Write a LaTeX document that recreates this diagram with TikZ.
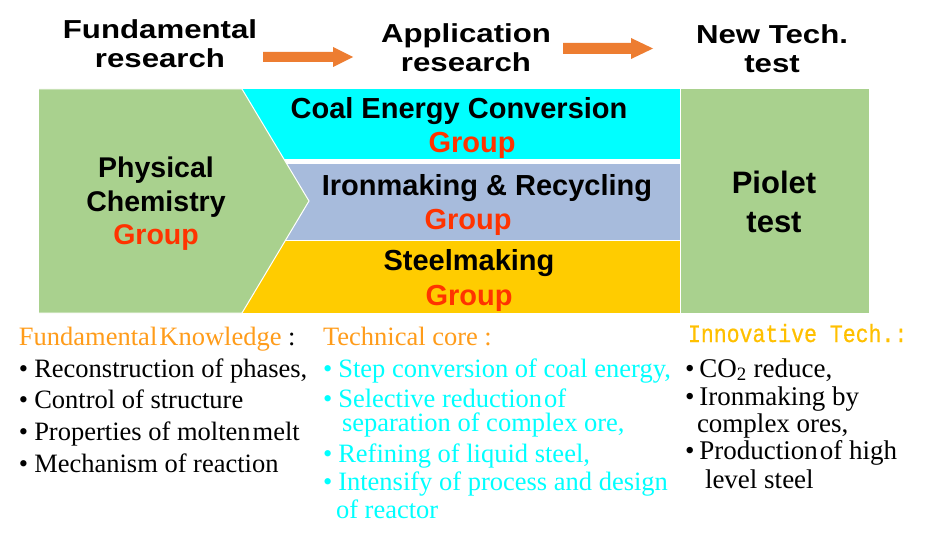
\documentclass[tikz,border=0pt]{standalone}
\usepackage{fontspec}
\setmainfont{Liberation Serif}
\newfontfamily\arialfont{Liberation Sans}
\newfontfamily\headfont[FakeStretch=1.2]{Liberation Sans}
\newfontfamily\monofnt[FakeStretch=0.86,FakeBold=0.6]{Liberation Mono}
\definecolor{boxgreen}{HTML}{A9D18E}
\definecolor{bandcyan}{HTML}{00FFFF}
\definecolor{bandblue}{HTML}{A7BBDC}
\definecolor{bandgold}{HTML}{FFCC00}
\definecolor{grpred}{HTML}{FF3300}
\definecolor{arrorange}{HTML}{ED7D31}
\definecolor{knorange}{HTML}{FF9C1A}
\definecolor{techgold}{HTML}{FFC000}
\begin{document}
\begin{tikzpicture}[x=1pt,y=-1pt,
  every node/.style={inner sep=0pt, outer sep=0pt},
  head/.style={anchor=base, font=\headfont\bfseries\fontsize{26}{29}\selectfont},
  bandtxt/.style={anchor=base, font=\arialfont\bfseries\fontsize{29}{32}\selectfont},
  grp/.style={bandtxt, text=grpred},
  bodytxt/.style={anchor=base west, font=\fontsize{26.5}{30}\selectfont},
  body2/.style={anchor=base west, font=\fontsize{26.5}{30}\selectfont, text=bandcyan},
  body3/.style={anchor=base west, font=\fontsize{27}{30}\selectfont},
  blockarrow/.style={fill=arrorange}
]
\useasboundingbox (0,0) rectangle (930,543);
\fill[white] (0,0) rectangle (930,543);

% headings
\node[head] (h1a) at (160,39) {Fundamental};
\node[head] (h1b) at (160,68) {research};
\node[head] (h2a) at (466,42.5) {Application};
\node[head] (h2b) at (466,71.5) {research};
\node[head] (h3a) at (772,44) {New Tech.};
\node[head] (h3b) at (772,73) {test};

% block arrows
\fill[blockarrow] (263,52) -- (333,52) -- (333,47) -- (353,57) -- (333,67) -- (333,62) -- (263,62) -- cycle;
\fill[blockarrow] (563,43) -- (631,43) -- (631,38) -- (653,48.5) -- (631,59) -- (631,54) -- (563,54) -- cycle;

% bands
\fill[bandcyan] (242,89) rectangle (680,159);
\fill[bandblue] (242,164) rectangle (680,240);
\fill[bandgold] (242,241) rectangle (680,313);
\fill[boxgreen] (681,89.5) rectangle (869,313);

% chevron
\filldraw[fill=boxgreen, draw=white, line width=1pt, line join=miter]
  (38,89) -- (242,89) -- (309,201) -- (242,313) -- (38,313) -- cycle;
\fill[white] (37,88) rectangle (38.5,314);

% chevron texts
\node[bandtxt, font=\arialfont\bfseries\fontsize{28.5}{32}\selectfont] (pc1) at (156,177) {Physical};
\node[bandtxt, font=\arialfont\bfseries\fontsize{28.5}{32}\selectfont] (pc2) at (156,211) {Chemistry};
\node[grp, font=\arialfont\bfseries\fontsize{28.5}{32}\selectfont] (pc3) at (156,244) {Group};

% band texts
\node[bandtxt] (c1) at (459,118) {Coal Energy Conversion};
\node[grp] (c2) at (472,152) {Group};
\node[bandtxt] (i1) at (487,195) {Ironmaking \& Recycling};
\node[grp] (i2) at (468,229) {Group};
\node[bandtxt] (s1) at (469,270) {Steelmaking};
\node[grp] (s2) at (469,305) {Group};

% pilot
\node[bandtxt, font=\arialfont\bfseries\fontsize{31}{34}\selectfont] (p1) at (774,193) {Piolet};
\node[bandtxt, font=\arialfont\bfseries\fontsize{31}{34}\selectfont] (p2) at (774,232) {test};

% left column
\node[bodytxt, text=knorange] (k0) at (19,345) {Fundamental\hspace{2pt}Knowledge \textcolor{black}{:}};
\node[bodytxt] (k1) at (19,377) {\textbullet\hspace{6pt}Reconstruction of phases,};
\node[bodytxt] (k2) at (19,408) {\textbullet\hspace{6pt}Control of structure};
\node[bodytxt] (k3) at (19,440) {\textbullet\hspace{6pt}Properties of molten\hspace{2pt}melt};
\node[bodytxt] (k4) at (19,472) {\textbullet\hspace{6pt}Mechanism of reaction};

% middle column
\node[bodytxt, text=knorange] (t0) at (323,345) {Technical core :};
\node[body2] (t1) at (323,377) {\textbullet\hspace{6pt}Step conversion of coal energy,};
\node[body2] (t2) at (323,407) {\textbullet\hspace{6pt}Selective reduction\hspace{2pt}of};
\node[body2] (t3) at (342,431) {separation of complex ore,};
\node[body2] (t4) at (323,462) {\textbullet\hspace{6pt}Refining of liquid steel,};
\node[body2] (t5) at (323,490) {\textbullet\hspace{6pt}Intensify of process and design};
\node[body2] (t6) at (336,518) {of reactor};

% right column
\node[anchor=base west, font=\monofnt\fontsize{25}{28}\selectfont, text=techgold] (n0) at (688,342) {Innovative Tech.:};
\node[body3] (n1) at (685,377) {\textbullet\hspace{5pt}CO\textsubscript{2} reduce,};
\node[body3] (n2) at (685,405) {\textbullet\hspace{5pt}Ironmaking by};
\node[body3] (n3) at (697,432) {complex ores,};
\node[body3] (n4) at (685,459) {\textbullet\hspace{5pt}Production\hspace{2pt}of high};
\node[body3] (n5) at (705,488) {level steel};
\end{tikzpicture}
\end{document}
